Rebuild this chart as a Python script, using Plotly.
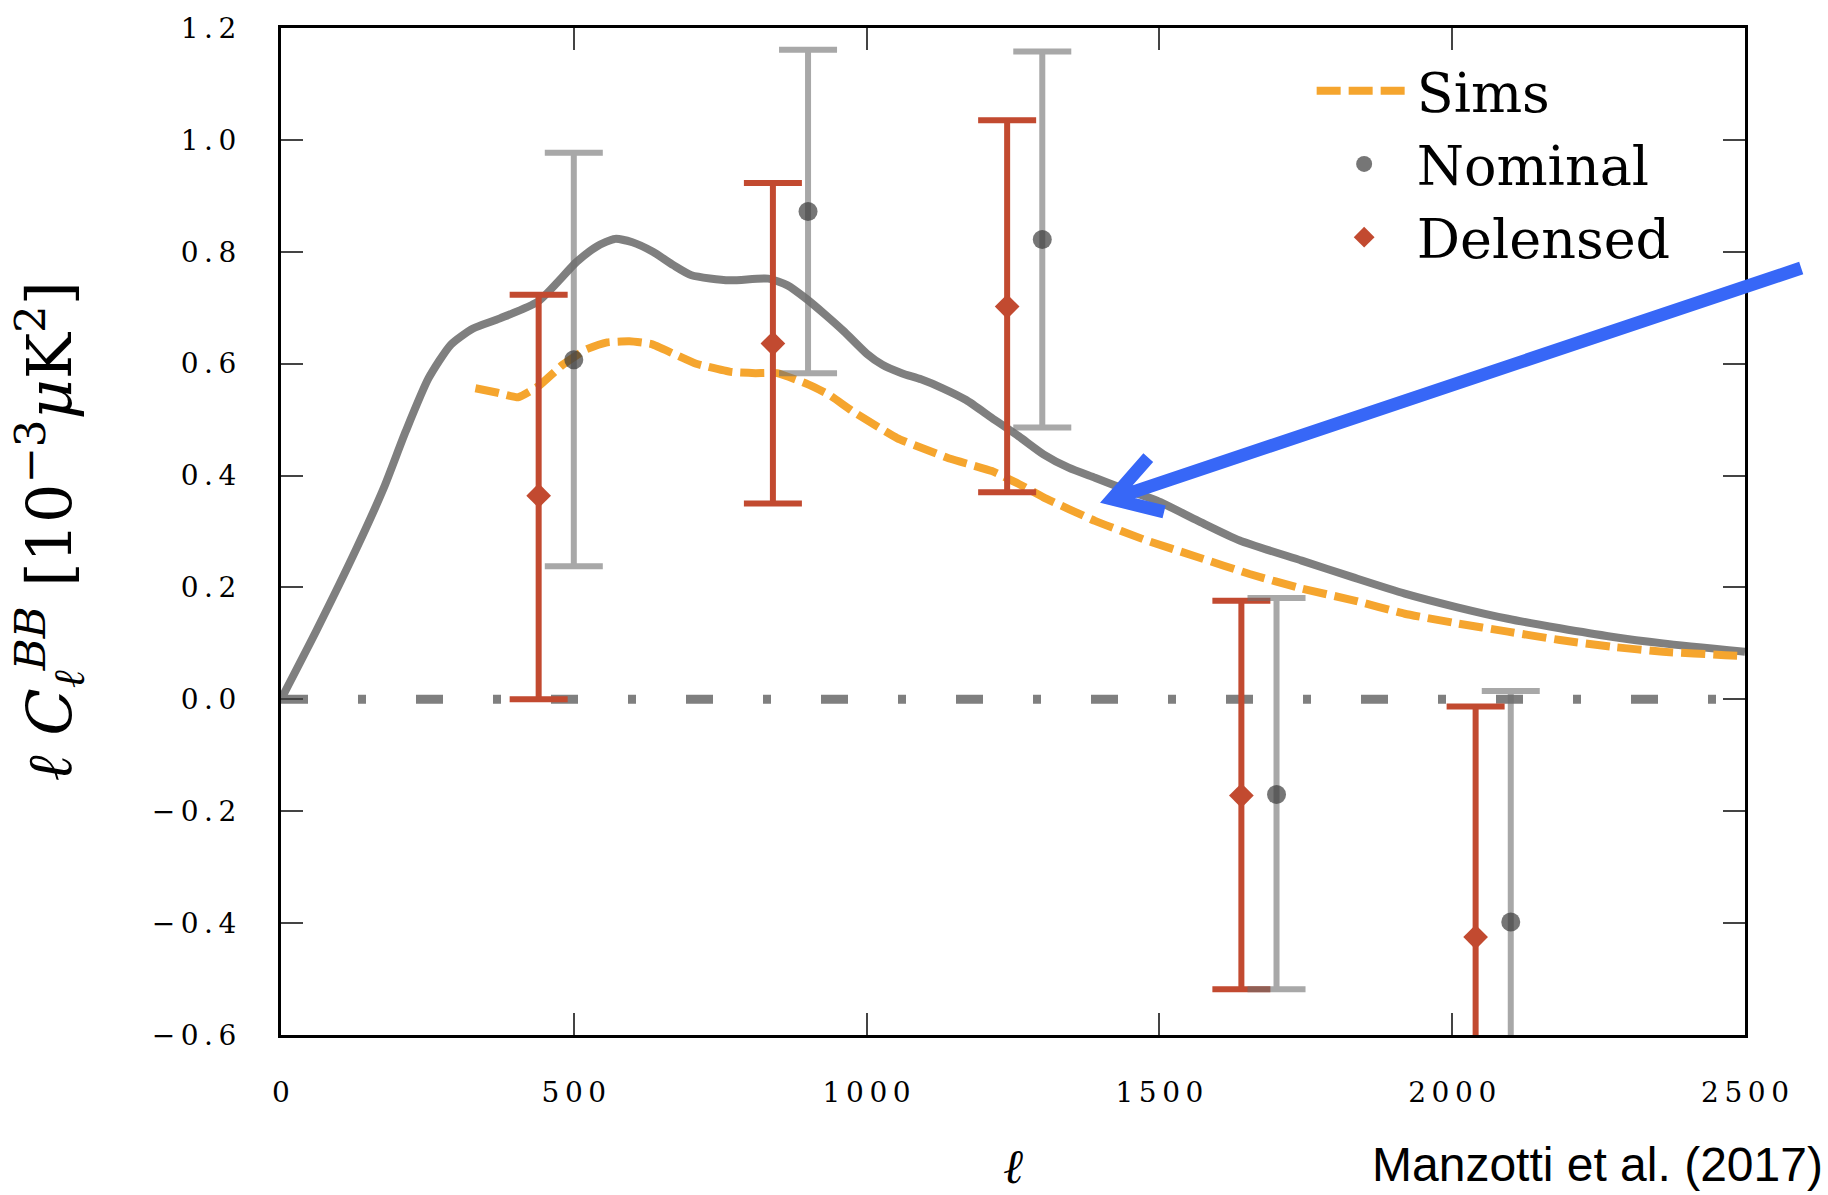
import plotly.graph_objects as go

# ---------------- data ----------------
theory_l = [0, 61, 130, 176, 213, 252, 290, 328, 374, 439, 505, 540, 570, 600, 635, 670, 701,
            766, 832, 865, 897, 930, 962, 1000, 1027, 1060, 1093, 1130, 1170, 1214, 1260, 1302,
            1345, 1390, 1440, 1496, 1566, 1637, 1743, 1831, 1919, 2007, 2095, 2184, 2272, 2360, 2500]
theory_v = [0.0, 0.124, 0.272, 0.379, 0.479, 0.574, 0.634, 0.663, 0.681, 0.711, 0.782, 0.810, 0.823,
            0.817, 0.800, 0.776, 0.758, 0.749, 0.752, 0.740, 0.716, 0.687, 0.657, 0.618, 0.598,
            0.583, 0.572, 0.556, 0.535, 0.503, 0.470, 0.438, 0.414, 0.396, 0.376, 0.355, 0.319,
            0.284, 0.248, 0.218, 0.189, 0.165, 0.144, 0.127, 0.112, 0.100, 0.085]

sims_l = [332, 370, 405, 440, 481, 520, 557, 595, 633, 670, 709, 770, 810, 847, 900, 935, 976,
          1052, 1100, 1143, 1214, 1260, 1302, 1390, 1478, 1566, 1654, 1743, 1831, 1919, 2007,
          2095, 2184, 2272, 2360, 2466, 2500]
sims_v = [0.556, 0.548, 0.540, 0.560, 0.598, 0.625, 0.638, 0.640, 0.635, 0.618, 0.600, 0.585,
          0.583, 0.583, 0.563, 0.545, 0.515, 0.467, 0.447, 0.430, 0.408, 0.385, 0.361, 0.319,
          0.284, 0.254, 0.224, 0.198, 0.177, 0.153, 0.136, 0.121, 0.106, 0.094, 0.085, 0.079, 0.077]

delensed_l = [440, 840, 1240, 1640, 2040]
delensed_v = [0.364, 0.636, 0.702, -0.172, -0.425]
delensed_hi = [0.723, 0.923, 1.035, 0.176, -0.013]
delensed_lo = [0.0, 0.350, 0.370, -0.518, -0.837]

nominal_l = [500, 900, 1300, 1700, 2100]
nominal_v = [0.607, 0.872, 0.822, -0.170, -0.398]
nominal_hi = [0.977, 1.161, 1.158, 0.181, 0.015]
nominal_lo = [0.238, 0.583, 0.486, -0.518, -0.811]

zero_l = [0, 2500]
zero_v = [0.0, 0.0]

TS = "\u2009"  # thin space, mimics the wide letter spacing of the original labels
x_ticks = [0, 500, 1000, 1500, 2000, 2500]
x_ticklabels = ["0", TS.join("500"), TS.join("1000"), TS.join("1500"), TS.join("2000"), TS.join("2500")]
y_ticks = [-0.6, -0.4, -0.2, 0.0, 0.2, 0.4, 0.6, 0.8, 1.0, 1.2]
y_ticklabels = [TS.join(s) for s in ["−0.6", "−0.4", "−0.2", "0.0", "0.2", "0.4", "0.6", "0.8", "1.0", "1.2"]]

# arrow annotation points in (ell, value) units
arrow_tail = (2596, 0.771)
arrow_tip = (1419, 0.358)
arrow_arm1 = (1481, 0.432)
arrow_arm2 = (1508, 0.335)

X_RANGE = [0, 2500]
Y_RANGE = [-0.6, 1.2]

RED = "#c24a30"
ORANGE = "#f5a52e"
GRAY = "#7f7f7f"
SERIF = "DejaVu Serif"

fig = go.Figure()

fig.add_trace(go.Scatter(x=zero_l, y=zero_v, mode="lines", showlegend=False,
                         line=dict(color=GRAY, width=9, dash="27px,50px,8px,50px"),
                         hoverinfo="skip"))

fig.add_trace(go.Scatter(x=theory_l, y=theory_v, mode="lines", showlegend=False,
                         line=dict(color=GRAY, width=8, shape="spline", smoothing=0.6)))

fig.add_trace(go.Scatter(x=sims_l, y=sims_v, mode="lines", name="Sims", legendrank=1,
                         line=dict(color=ORANGE, width=8, dash="24px,8px", shape="spline",
                                   smoothing=0.4)))

fig.add_trace(go.Scatter(
    x=delensed_l, y=delensed_v, mode="markers", name="Delensed", legendrank=3,
    marker=dict(symbol="diamond", size=19, color=RED),
    error_y=dict(type="data", symmetric=False,
                 array=[h - v for h, v in zip(delensed_hi, delensed_v)],
                 arrayminus=[v - l for l, v in zip(delensed_lo, delensed_v)],
                 color=RED, thickness=6, width=29)))

fig.add_trace(go.Scatter(
    x=nominal_l, y=nominal_v, mode="markers", name="Nominal", legendrank=2,
    marker=dict(symbol="circle", size=19, color="rgba(60,60,60,0.7)"),
    error_y=dict(type="data", symmetric=False,
                 array=[h - v for h, v in zip(nominal_hi, nominal_v)],
                 arrayminus=[v - l for l, v in zip(nominal_lo, nominal_v)],
                 color="rgba(110,110,110,0.6)", thickness=6, width=29)))


def to_paper(pt):
    return ((pt[0] - X_RANGE[0]) / (X_RANGE[1] - X_RANGE[0]),
            (pt[1] - Y_RANGE[0]) / (Y_RANGE[1] - Y_RANGE[0]))


t0 = to_paper(arrow_tail)
tp = to_paper(arrow_tip)
a1 = to_paper(arrow_arm1)
a2 = to_paper(arrow_arm2)
arrow_path = (f"M{t0[0]},{t0[1]} L{tp[0]},{tp[1]} "
              f"M{a1[0]},{a1[1]} L{tp[0]},{tp[1]} L{a2[0]},{a2[1]}")

axis_common = dict(showline=True, linecolor="black", linewidth=3, mirror="allticks",
                   ticks="inside", ticklen=22, tickwidth=2, tickcolor="#444",
                   showgrid=False, zeroline=False,
                   tickfont=dict(family=SERIF, size=28, color="black"))

fig.update_layout(
    width=1828, height=1195,
    margin=dict(l=281, r=83, t=23, b=160),
    paper_bgcolor="white", plot_bgcolor="white",
    xaxis=dict(range=X_RANGE, tickmode="array", tickvals=x_ticks, ticktext=x_ticklabels,
               ticklabelstandoff=30, **axis_common),
    yaxis=dict(range=Y_RANGE, tickmode="array", tickvals=y_ticks, ticktext=y_ticklabels,
               ticklabelstandoff=36, **axis_common),
    legend=dict(x=0.704, y=0.979, xanchor="left", yanchor="top", bgcolor="rgba(0,0,0,0)",
                font=dict(family=SERIF, size=54, color="black"), itemwidth=95,
                tracegroupgap=0),
    shapes=[dict(type="path", xref="paper", yref="paper", path=arrow_path,
                 line=dict(color="#3767f7", width=13), layer="above")],
    annotations=[
        dict(text="<i>ℓ C</i><sub><i>ℓ</i></sub><sup><i>BB</i></sup> [10<sup>−3</sup><i>μ</i>K<sup>2</sup>]",
             xref="paper", yref="paper", x=-0.158, y=0.5, xanchor="center", yanchor="middle",
             textangle=-90, showarrow=False, font=dict(family=SERIF, size=62, color="black")),
        dict(text="<i>ℓ</i>", xref="paper", yref="paper", x=0.5, y=-0.13,
             xanchor="center", yanchor="middle", showarrow=False,
             font=dict(family=SERIF, size=48, color="black")),
        dict(text="Manzotti et al. (2017)", xref="paper", yref="paper", x=1.0546, y=-0.129,
             xanchor="right", yanchor="middle", showarrow=False,
             font=dict(family="Liberation Sans", size=48, color="black")),
    ],
)

fig.write_html("out.html")
